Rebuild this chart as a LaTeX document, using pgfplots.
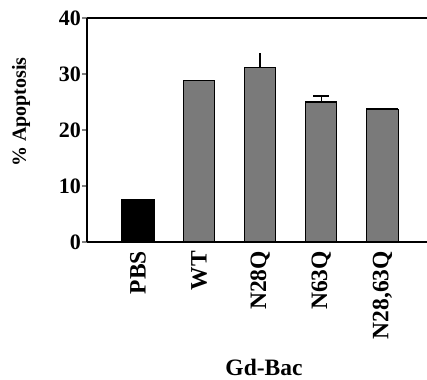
\documentclass[border=0pt]{standalone}
\usepackage{fontspec}
\setmainfont{Liberation Serif}
\usepackage{pgfplots}
\pgfplotsset{compat=1.18}
\definecolor{bargray}{RGB}{122,122,122}
\begin{document}
\begin{tikzpicture}[x=1pt,y=1pt]
\path[use as bounding box] (0,0) rectangle (427,379);
\begin{axis}[
  at={(87pt,137pt)}, anchor=south west,
  scale only axis, width=340pt, height=224pt,
  xmin=-0.835, xmax=4.73, ymin=0, ymax=40,
  axis x line=box, axis y line=left,
  axis line style={line width=1.5pt,-},
  x axis line style={-}, y axis line style={-},
  ytick={0,10,20,30,40},
  xtick={0,1,2,3,4},
  xticklabels={PBS,WT,N28Q,N63Q,{N28,63Q}},
  xtick style={draw=none},
  ytick style={line width=1.5pt},
  tick align=outside, major tick length=5pt,
  /pgf/number format/assume math mode=true,
  yticklabel style={font=\fontsize{22}{26}\selectfont\bfseries, inner sep=1pt},
  xticklabel style={font=\fontsize{23.5}{28}\selectfont\bfseries, rotate=90, anchor=east, inner sep=4pt},
  clip=false,
]
\addplot[ybar, bar width=32pt, bar shift=0pt, fill=black, draw=black, line width=1.3pt]
  coordinates {(0,7.6)};
\addplot[ybar, bar width=31pt, bar shift=0pt, fill=bargray, draw=black, line width=1.3pt]
  coordinates {(1,28.9)};
\addplot[ybar, bar width=31pt, bar shift=0pt, fill=bargray, draw=black, line width=1.3pt,
  error bars/.cd, y dir=plus, y explicit, error bar style={line width=1.5pt}, error mark=none]
  coordinates {(2,31.1) +- (0,2.6)};
\addplot[ybar, bar width=31pt, bar shift=0pt, fill=bargray, draw=black, line width=1.3pt,
  error bars/.cd, y dir=plus, y explicit, error bar style={line width=1.5pt},
  error mark options={rotate=90, mark size=8pt, line width=1.5pt}]
  coordinates {(3,25.0) +- (0,1.1)};
\addplot[ybar, bar width=32pt, bar shift=0pt, fill=bargray, draw=black, line width=1.3pt,
  error bars/.cd, y dir=plus, y explicit, error bar style={line width=1.5pt},
  error mark options={rotate=90, mark size=16pt, line width=2pt}]
  coordinates {(4,23.6) +- (0,0.2)};
\end{axis}
\node[rotate=90, font=\fontsize{20}{24}\selectfont\bfseries] at (21,267) {\% Apoptosis};
\node[anchor=base, font=\fontsize{23.5}{28}\selectfont\bfseries] at (264,4) {Gd-Bac};
\end{tikzpicture}
\end{document}
